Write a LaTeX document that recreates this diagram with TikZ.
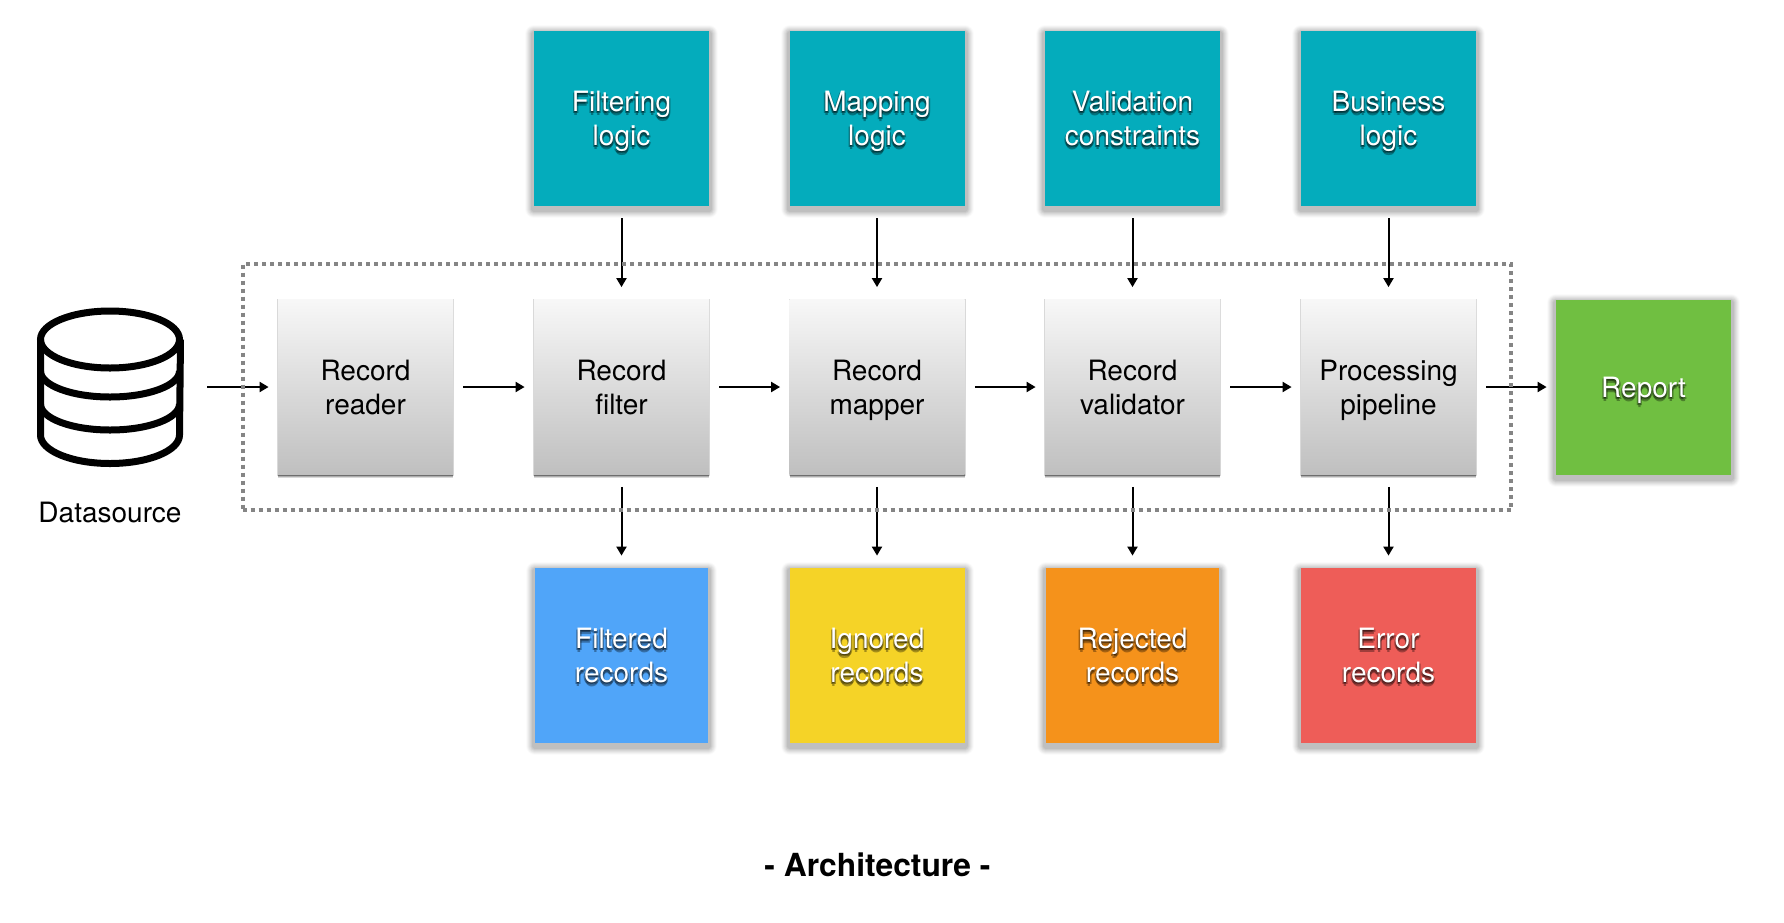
\documentclass[tikz,border=0pt]{standalone}
\usepackage{fontspec}
\setmainfont{TeX Gyre Heros}
\usetikzlibrary{arrows.meta,fit}
\definecolor{logicteal}{HTML}{04ACBC}
\definecolor{filteredblue}{HTML}{50A5F9}
\definecolor{ignoredyellow}{HTML}{F5D327}
\definecolor{rejectedorange}{HTML}{F5921B}
\definecolor{errorred}{HTML}{EE5D58}
\definecolor{reportgreen}{HTML}{70BF41}
\definecolor{dotgray}{HTML}{858585}
\newcommand{\tophold}{\rule{0pt}{15pt}}
\newcommand{\bothold}{\rule[-5pt]{0pt}{5pt}}
\tikzset{
  boxtext/.style={font=\fontsize{14}{17}\selectfont,align=center,inner sep=0pt,minimum width=87.5pt,minimum height=87.5pt},
  grayring/.style 2 args={preaction={fill=black,opacity=#2,transform canvas={yshift=-#1}}},
  colorring/.style 2 args={preaction={draw=black,opacity=#2,line width=#1,line join=round,transform canvas={yshift=-1.5pt}}},
  graybox/.style={boxtext,preaction={draw=black,opacity=0.15,line width=1pt},grayring={1.8pt}{0.15},grayring={1.2pt}{0.2},grayring={0.6pt}{0.25},top color=black!3,bottom color=black!25},
  colorbox/.style={boxtext,colorring={9pt}{0.015},colorring={8pt}{0.03},colorring={7pt}{0.035},colorring={6pt}{0.04},colorring={5pt}{0.045},colorring={4pt}{0.05},colorring={3pt}{0.055}},
  softtext/.style={boxtext,text=black,text opacity=0.33},
  toptext/.style={boxtext,text=white},
  flowarrow/.style={line width=1pt,-{Triangle[length=4.5pt,width=5pt]},shorten <=5pt,shorten >=4.5pt},
  downarrow/.style={line width=1pt,-{Triangle[length=4.5pt,width=5pt]},shorten <=6pt,shorten >=6pt}
}
% coloured box: fill first, then the soft text shadow, then the white text
\newcommand{\softbox}[5][]{
  \node [colorbox,fill=#4,#1] (#2box) at #3 {};
  \node [softtext] (#2a) at ([xshift=0pt,yshift=-2pt]#2box.center) {\tophold #5\bothold};
  \node [softtext] (#2b) at ([xshift=-0.7pt,yshift=-1.2pt]#2box.center) {\tophold #5\bothold};
  \node [softtext] (#2c) at ([xshift=0.7pt,yshift=-1.2pt]#2box.center) {\tophold #5\bothold};
  \node [softtext] (#2d) at ([xshift=0pt,yshift=-0.5pt]#2box.center) {\tophold #5\bothold};
  \node [toptext] (#2) at (#2box.center) {\tophold #5\bothold};
}
\begin{document}
\begin{tikzpicture}[x=0.5pt,y=-0.5pt]
\useasboundingbox [fill=white] (0,0) rectangle (1784,922);
% datasource
\node [inner sep=0pt,minimum width=73pt,minimum height=80pt] (datasource) at (110,387) {};
\draw [line width=3.5pt] (110,339.5) ellipse (69.5 and 28.5);
\draw [line width=3.5pt] (40.5,339.5) -- (40.5,435) arc (180:0:69.5 and 28.5) -- (180.5,339.5);
\draw [line width=3.5pt] (40.5,371) arc (180:0:69.5 and 26);
\draw [line width=3.5pt] (40.5,404) arc (180:0:69.5 and 26);
\node [font=\fontsize{14}{17}\selectfont,inner sep=0pt] (datasourcelabel) at (110,512) {Datasource};
% logic
\softbox{filtering}{(621.5,118.5)}{logicteal}{Filtering\\logic}
\softbox{mapping}{(877,118.5)}{logicteal}{Mapping\\logic}
\softbox{constraints}{(1132.5,118.5)}{logicteal}{Validation\\constraints}
\softbox{business}{(1388.5,118.5)}{logicteal}{Business\\logic}
% job
\node [graybox] (reader) at (365.5,387) {\tophold Record\\reader\bothold};
\node [graybox] (filter) at (621.5,387) {\tophold Record\\filter\bothold};
\node [graybox] (mapper) at (877,387) {\tophold Record\\mapper\bothold};
\node [graybox] (validator) at (1132.5,387) {\tophold Record\\validator\bothold};
\node [graybox] (pipeline) at (1388.5,387) {\tophold Processing\\pipeline\bothold};
\softbox{report}{(1643.5,387)}{reportgreen}{Report}
% outcome
\softbox[minimum width=86.5pt]{filtered}{(621.5,655.5)}{filteredblue}{Filtered\\records}
\softbox{ignored}{(877,655.5)}{ignoredyellow}{Ignored\\records}
\softbox[minimum width=86.5pt]{rejected}{(1132.5,655.5)}{rejectedorange}{Rejected\\records}
\softbox{errors}{(1388.5,655.5)}{errorred}{Error\\records}
% arrows
\draw [flowarrow,shorten <=12pt] (datasource) -- (reader);
\draw [flowarrow] (reader) -- (filter);
\draw [flowarrow] (filter) -- (mapper);
\draw [flowarrow] (mapper) -- (validator);
\draw [flowarrow] (validator) -- (pipeline);
\draw [flowarrow] (pipeline) -- (report);
\draw [downarrow] (filtering) -- (filter);
\draw [downarrow] (mapping) -- (mapper);
\draw [downarrow] (constraints) -- (validator);
\draw [downarrow] (business) -- (pipeline);
\draw [downarrow] (filter) -- (filtered);
\draw [downarrow] (mapper) -- (ignored);
\draw [downarrow] (validator) -- (rejected);
\draw [downarrow] (pipeline) -- (errors);
% job frame
\node [draw=dotgray,line width=2pt,dash pattern=on 2pt off 2pt,inner sep=17.5pt,fit=(reader)(pipeline)] (jobframe) {};
% title
\node [font=\fontsize{15.9}{19}\bfseries\selectfont,inner sep=0pt] (title) at (877.5,865) {- Architecture -};
\end{tikzpicture}
\end{document}
